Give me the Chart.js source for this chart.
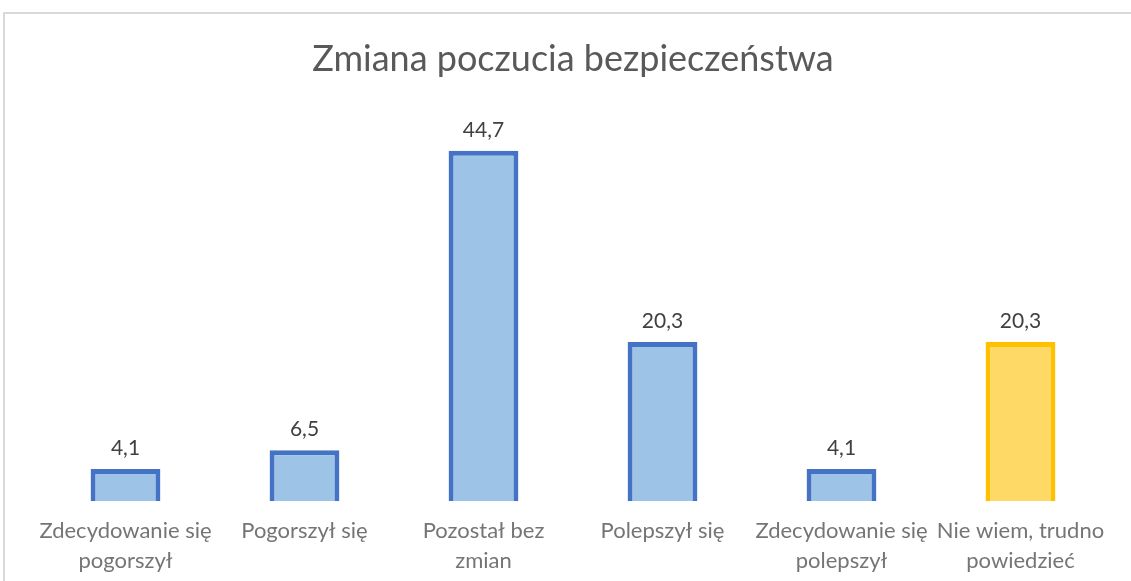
<!DOCTYPE html>
<html>
<head>
<meta charset="utf-8">
<script src="https://cdn.jsdelivr.net/npm/chart.js@4"></script>
<style>
    html, body { margin: 0; padding: 0; background: #ffffff; }
    #wrap { position: relative; width: 1131px; height: 581px; overflow: hidden; }
    #frame { position: absolute; left: 3px; top: 12px; width: 1200px; height: 700px; border: 2px solid #d9d9d9; box-sizing: border-box; }
    #chart { position: absolute; left: 0; top: 0; }
</style>
</head>
<body>
<div id="wrap">
    <div id="frame"></div>
    <canvas id="chart" width="1131" height="581"></canvas>
</div>
<script>
// ---------------------------------------------------- DATA ----------------------------------------------------
const categories = [
    ['Zdecydowanie się', 'pogorszył'],
    'Pogorszył się',
    ['Pozostał bez', 'zmian'],
    'Polepszył się',
    ['Zdecydowanie się', 'polepszył'],
    ['Nie wiem, trudno', 'powiedzieć']
];
const values = [4.1, 6.5, 44.7, 20.3, 4.1, 20.3];
const fillColors = ['#9dc3e6', '#9dc3e6', '#9dc3e6', '#9dc3e6', '#9dc3e6', '#ffd966'];
const borderColors = ['#4472c4', '#4472c4', '#4472c4', '#4472c4', '#4472c4', '#ffc000'];

// ---------------------------------------------------- VALUE LABELS ----------------------------------------------------
const valueLabels = {
    id: 'valueLabels',
    afterDatasetsDraw(chart) {
        const ctx = chart.ctx;
        const meta = chart.getDatasetMeta(0);
        ctx.save();
        ctx.font = '21px Lato, "Liberation Sans", sans-serif';
        ctx.fillStyle = '#404040';
        ctx.textAlign = 'center';
        ctx.textBaseline = 'bottom';
        meta.data.forEach((bar, i) => {
            const txt = values[i].toFixed(1).replace('.', ',');
            ctx.fillText(txt, bar.x, bar.y - 10);
        });
        ctx.restore();
    }
};

const ctx = document.getElementById('chart').getContext('2d');
const chart = new Chart(ctx, {
    type: 'bar',
    data: {
        labels: categories,
        datasets: [{
            data: values,
            backgroundColor: fillColors,
            borderColor: borderColors,
            borderWidth: 5,
            categoryPercentage: 1,
            barPercentage: 0.39
        }]
    },
    options: {
        responsive: false,
        animation: false,
        layout: {
            padding: { left: 36, right: 21, top: 38, bottom: -2 }
        },
        scales: {
            x: {
                grid: { display: false },
                border: { display: false },
                ticks: {
                    color: '#757575',
                    font: { family: 'Lato, "Liberation Sans", sans-serif', size: 22, lineHeight: 1.36 },
                    padding: 7,
                    maxRotation: 0,
                    autoSkip: false
                }
            },
            y: {
                display: false,
                min: 0,
                max: 50
            }
        },
        plugins: {
            legend: { display: false },
            tooltip: { enabled: false },
            title: {
                display: true,
                text: 'Zmiana poczucia bezpieczeństwa',
                color: '#595959',
                font: { family: 'Lato, "Liberation Sans", sans-serif', size: 36, weight: 'normal' },
                padding: { top: 0, bottom: 28 }
            }
        }
    },
    plugins: [valueLabels]
});
</script>
</body>
</html>
